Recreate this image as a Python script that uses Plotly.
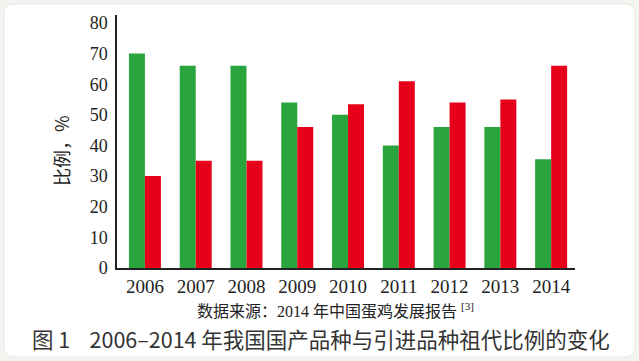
import plotly.graph_objects as go

years = ["2006", "2007", "2008", "2009", "2010", "2011", "2012", "2013", "2014"]
domestic = [70, 66, 66, 54, 50, 40, 46, 46, 35.5]
imported = [30, 35, 35, 46, 53.5, 61, 54, 55, 66]
y_ticks = [0, 10, 20, 30, 40, 50, 60, 70, 80]

W, H = 639, 361
FIG_H = 372
def px(x): return x / W
def py(y): return 1 - y / H

fig = go.Figure()
fig.add_trace(go.Bar(x=years, y=domestic, marker=dict(color="#2aa43c", line=dict(width=0)), name="国产品种"))
fig.add_trace(go.Bar(x=years, y=imported, marker=dict(color="#e6001a", line=dict(width=0)), name="引进品种"))

# rounded white card
x0, x1, y0, y1, r = px(4), px(635), py(356), py(3), 10
rx, ry = r / W, r / H
path = (f"M {x0+rx},{y0} L {x1-rx},{y0} Q {x1},{y0} {x1},{y0+ry} L {x1},{y1-ry} Q {x1},{y1} {x1-rx},{y1} "
        f"L {x0+rx},{y1} Q {x0},{y1} {x0},{y1-ry} L {x0},{y0+ry} Q {x0},{y0} {x0+rx},{y0} Z")
fig.add_shape(type="path", path=path, xref="paper", yref="paper", fillcolor="white",
              line=dict(color="#e6e6e2", width=1), layer="below")

fig.update_layout(
    width=W, height=FIG_H, autosize=False,
    margin=dict(l=0, r=0, t=0, b=0),
    paper_bgcolor="#f3f3f0",
    plot_bgcolor="rgba(0,0,0,0)",
    showlegend=False,
    barmode="group",
    bargap=0.37,
    bargroupgap=0,
    xaxis=dict(domain=[px(117), px(575)], range=[-0.55, 8.47], showline=True, linecolor="#222",
               linewidth=1.5, ticks="", showgrid=False, zeroline=False,
               tickfont=dict(family="Liberation Serif", size=19, color="#222"), ticklabelstandoff=0),
    yaxis=dict(domain=[py(267), py(14)], range=[0, 82.6], tickvals=y_ticks, showline=True,
               linecolor="#222", linewidth=1.5, ticks="", showgrid=False, zeroline=False,
               tickfont=dict(family="Liberation Serif", size=18, color="#222"), ticklabelstandoff=4),
    font=dict(family="Noto Sans CJK SC"),
)

fig.add_annotation(text="比例，%", textangle=-90, x=px(61), y=py(150), xref="paper", yref="paper",
                   xanchor="center", yanchor="middle", showarrow=False,
                   font=dict(family="Noto Sans CJK SC", size=18, color="#222"))
fig.add_annotation(text="数据来源：2014 年中国蛋鸡发展报告 <sup>[3]</sup>", x=px(335), y=py(309),
                   xref="paper", yref="paper", xanchor="center", yanchor="middle", showarrow=False,
                   font=dict(family="Liberation Serif, Noto Sans CJK SC", size=16, color="#222"))
fig.add_annotation(text="图 1    2006–2014 年我国国产品种与引进品种祖代比例的变化", x=px(30), y=py(337),
                   xref="paper", yref="paper", xanchor="left", yanchor="middle", showarrow=False,
                   font=dict(family="Noto Sans CJK SC", size=21.5, color="#333"))

fig.write_html("out.html", config={"displayModeBar": False},
               post_script="document.body.style.margin='0';")
